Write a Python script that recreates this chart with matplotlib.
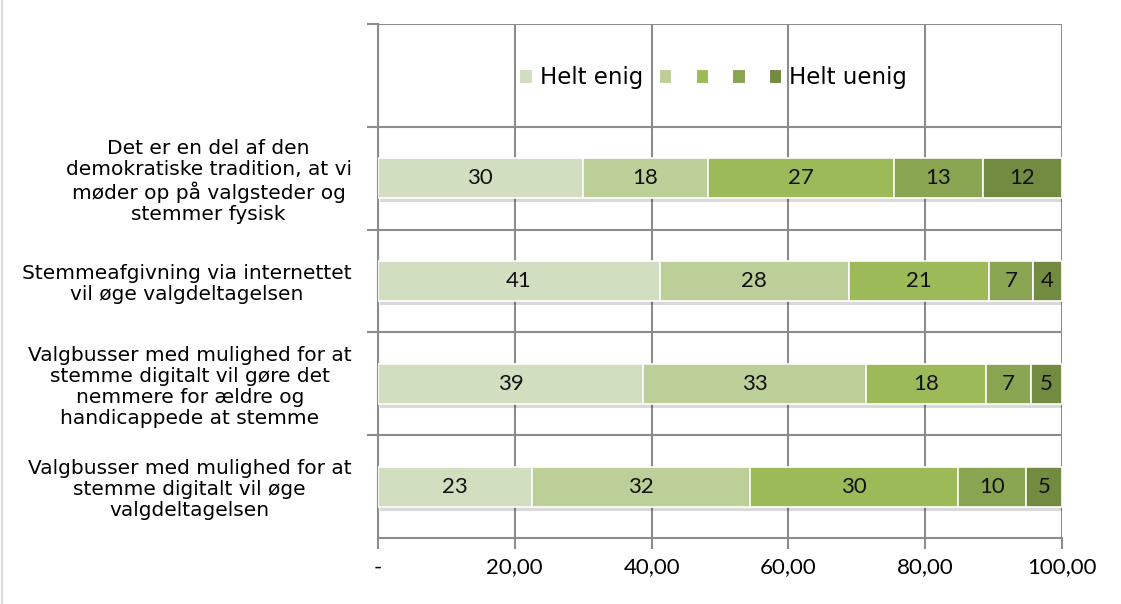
import numpy as np
import matplotlib
matplotlib.use('Agg')
import matplotlib.pyplot as plt
import matplotlib.patheffects as pe
from matplotlib.patches import Patch

# statements (top to bottom as shown)
statements = [
    'Det er en del af den\ndemokratiske tradition, at vi\nmøder op på valgsteder og\nstemmer fysisk',
    'Stemmeafgivning via internettet\nvil øge valgdeltagelsen',
    'Valgbusser med mulighed for at\nstemme digitalt vil gøre det\nnemmere for ældre og\nhandicappede at stemme',
    'Valgbusser med mulighed for at\nstemme digitalt vil øge\nvalgdeltagelsen',
]
legend_labels = ['Helt enig', '', '', '', 'Helt uenig']

# shares (percent) per answer category, one list per statement
helt_enig = [29.9, 41.2, 38.8, 22.5]
enig = [18.3, 27.6, 32.5, 31.9]
neutral = [27.3, 20.5, 17.6, 30.4]
uenig = [12.9, 6.5, 6.5, 10.0]
helt_uenig = [11.6, 4.2, 4.6, 5.2]

# labels printed in the bars
lab_helt_enig = [30, 41, 39, 23]
lab_enig = [18, 28, 33, 32]
lab_neutral = [27, 21, 18, 30]
lab_uenig = [13, 7, 7, 10]
lab_helt_uenig = [12, 4, 5, 5]

xticks = [0, 20, 40, 60, 80, 100]
xticklabels = ['-', '20,00', '40,00', '60,00', '80,00', '100,00']

colors = ['#D2DEC0', '#BCCF99', '#9CBB58', '#8AA552', '#738B41']
grid_col = '#8C8C8C'

series = [helt_enig, enig, neutral, uenig, helt_uenig]
labels = [lab_helt_enig, lab_enig, lab_neutral, lab_uenig, lab_helt_uenig]

fig = plt.figure(figsize=(11.21, 6.04), dpi=100)
ax = fig.add_axes([378 / 1121, 66 / 604, 684 / 1121, 514 / 604])

# rows: index 0 at bottom, top band left empty for the legend
n = len(statements)
ypos = np.arange(n)[::-1]

left = np.zeros(n)
shadow = [pe.SimplePatchShadow(offset=(1.5, -3), shadow_rgbFace='#000000', alpha=0.15), pe.Normal()]
for vals, labs, col in zip(series, labels, colors):
    bars = ax.barh(ypos, vals, left=left, height=0.39, color=col, edgecolor='white',
                   linewidth=1.2, zorder=3)
    for b in bars:
        b.set_path_effects(shadow)
    for y, l, v, t in zip(ypos, left, vals, labs):
        ax.text(l + v / 2, y, str(t), ha='center', va='center', fontsize=16,
                family='Lato', color='#111111', zorder=4)
    left = left + np.array(vals)

ax.set_xlim(0, 100)
ax.set_ylim(-0.5, n + 0.5)

ax.set_xticks(xticks)
ax.set_xticklabels(xticklabels, family='Lato', fontsize=16)
ax.set_yticks(np.arange(n + 1) + 0.5)
ax.set_yticklabels([])
ax.set_yticks(ypos, minor=True)
ax.set_yticklabels(statements, minor=True, fontsize=14.5, family='DejaVu Sans',
                   ha='right', multialignment='center', linespacing=1.13)
ax.tick_params(axis='y', which='minor', length=0, pad=19)
ax.tick_params(axis='y', which='major', length=8, width=1.5, color=grid_col)
ax.tick_params(axis='x', length=8, width=1.5, color=grid_col, pad=6)

ax.grid(True, axis='x', color=grid_col, linewidth=1.5, zorder=0)
ax.grid(True, axis='y', which='major', color=grid_col, linewidth=1.5, zorder=0)
ax.set_axisbelow(True)
for s in ['top', 'right']:
    ax.spines[s].set_visible(False)
for s in ['left', 'bottom']:
    ax.spines[s].set_color(grid_col)
    ax.spines[s].set_linewidth(1.5)

handles = [Patch(facecolor=c, edgecolor='white', linewidth=0.8) for c in colors]
ax.legend(handles, legend_labels, loc='center', bbox_to_anchor=(0.49, 0.895), ncol=5,
          frameon=False, fontsize=16.5, handlelength=0.55, handleheight=0.55,
          handletextpad=0.35, columnspacing=0.7)

# light chart border on the left edge
fig.add_artist(plt.Line2D([0.0015, 0.0015], [0, 1], color='#D9D9D9', linewidth=1.5))

fig.savefig('out.png', dpi=100)
